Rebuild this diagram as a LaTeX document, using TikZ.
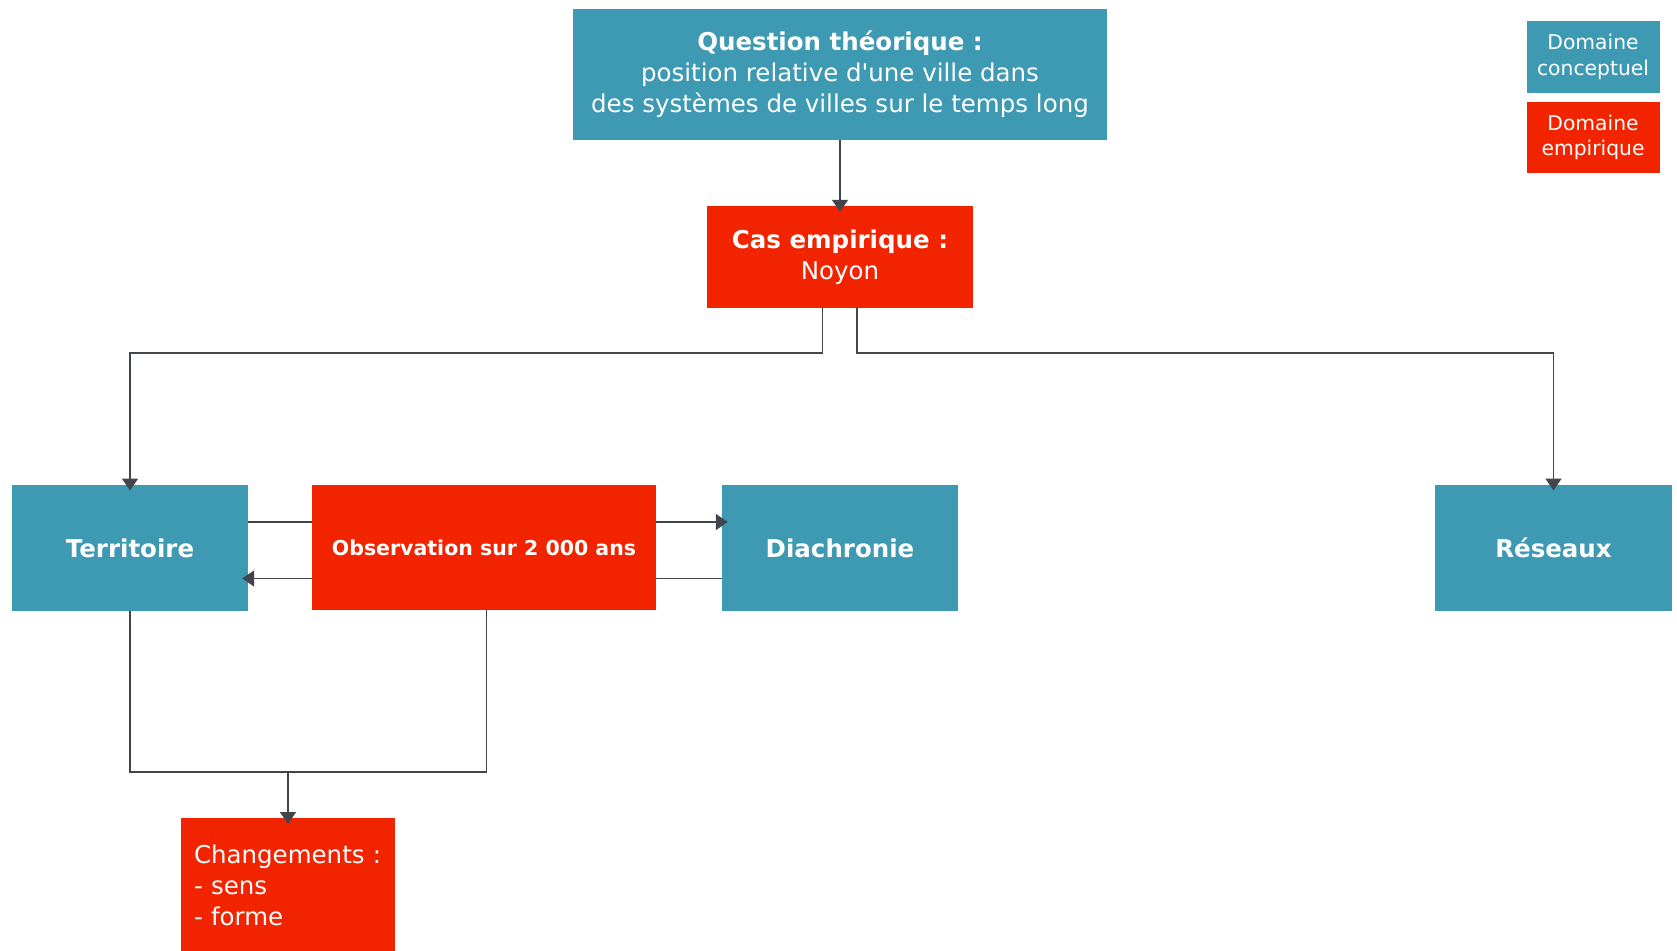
\documentclass[tikz,border=0pt]{standalone}
\usepackage{fontspec}
\setmainfont{DejaVu Sans}
% plain family without TeX ligatures, so that ' stays a straight quote
\newfontfamily\djv{DejaVu Sans}
\usetikzlibrary{arrows.meta}
\definecolor{concept}{RGB}{61,154,178}
\definecolor{empir}{RGB}{242,36,0}
\definecolor{wire}{RGB}{66,70,76}
\tikzset{
  box/.style={rectangle, inner sep=0pt, text=white, align=center},
  conceptbox/.style={box, fill=concept},
  empirbox/.style={box, fill=empir},
  bigtext/.style={font=\djv\fontsize{24.5}{31}\selectfont},
  legendtext/.style={font=\djv\fontsize{20.3}{25.7}\selectfont},
  wireline/.style={draw=wire, line width=1.5pt},
  arr/.style={wireline, -{Triangle[width=16pt,length=12pt]}, shorten >=-6pt},
}
\begin{document}
\begin{tikzpicture}[x=1pt, y=-1pt]
  \fill[white] (0,0) rectangle (1677,950);
  \useasboundingbox (0,0) rectangle (1677,950);
  \clip (0,0) rectangle (1677,950);

  % top question and the empirical case
  \node[conceptbox, bigtext, minimum width=534pt, minimum height=131.5pt] (q) at (840,74.3)
    {\textbf{Question théorique :}\\position relative d'une ville dans\\des systèmes de villes sur le temps long};
  \node[empirbox, bigtext, minimum width=266pt, minimum height=102pt] (cas) at (840,257)
    {\textbf{Cas empirique :}\\Noyon};

  % middle row
  \node[conceptbox, bigtext, minimum width=236pt, minimum height=126.5pt] (terr) at (130,548) {\textbf{Territoire}};
  \node[conceptbox, bigtext, minimum width=236pt, minimum height=126.5pt] (dia) at (840,548) {\textbf{Diachronie}};
  \node[conceptbox, bigtext, minimum width=237pt, minimum height=126.5pt] (res) at (1553.5,548) {\textbf{Réseaux}};

  % links between Territoire and Diachronie, passing behind the observation box
  \draw[arr] ([yshift=26pt]terr.east) -- ([yshift=26pt]dia.west);
  \draw[arr] ([yshift=-30.5pt]dia.west) -- ([yshift=-30.5pt]terr.east);

  \node[empirbox, font=\djv\fontsize{20.5}{25}\selectfont, minimum width=344pt, minimum height=125.5pt] (obs) at (484,547.5)
    {\textbf{Observation sur 2 000 ans}};

  % outcome
  \node[empirbox, bigtext, align=left, text width=188pt, inner xsep=13pt, minimum height=135pt, anchor=north] (chg) at (288,818)
    {Changements :\\- sens\\- forme};

  % legend
  \node[conceptbox, legendtext, minimum width=133pt, minimum height=71pt] (leg1) at (1593,57) {Domaine\\conceptuel};
  \node[empirbox, legendtext, minimum width=133pt, minimum height=71pt] (leg2) at (1593,137.5) {Domaine\\empirique};

  % connectors
  \draw[arr] (q.south) -- (cas.north);

  \coordinate (casL) at ([xshift=-17.5pt]cas.south);
  \coordinate (casR) at ([xshift=17pt]cas.south);
  \coordinate (hub) at (0,353);
  \draw[arr] (casL) -- (casL |- hub) -| (terr.north);
  \draw[arr] (casR) -- (casR |- hub) -| (res.north);

  \coordinate (join) at (288,772);
  \coordinate (obsS) at ([xshift=2.5pt]obs.south);
  \draw[wireline] (terr.south) |- (join);
  \draw[wireline] (obsS) |- (join);
  \draw[arr] (join) -- (chg.north);
\end{tikzpicture}
\end{document}
